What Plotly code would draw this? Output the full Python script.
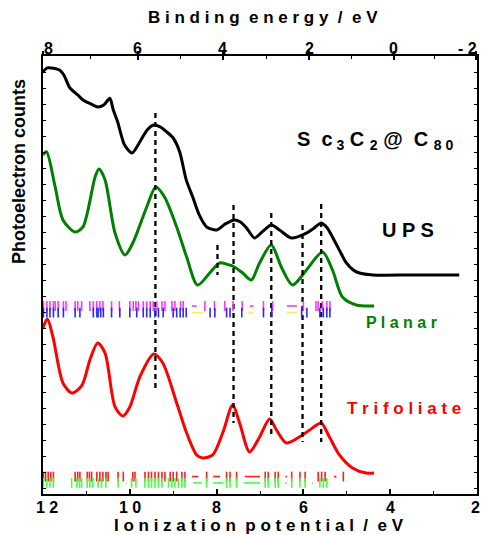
import plotly.graph_objects as go

# ---------------- data (ionization potential in eV, counts in arb. units) ----------------
ups_ip = [12.0, 11.9, 11.76, 11.62, 11.52, 11.38, 11.2, 11.08, 10.9, 10.74, 10.6, 10.46, 10.38, 10.28, 10.12,
          9.95, 9.77, 9.6, 9.45, 9.3, 9.15, 9.0, 8.85, 8.7, 8.55, 8.4, 8.23, 8.0, 7.8, 7.59, 7.45, 7.31, 7.13,
          6.95, 6.74, 6.55, 6.28, 5.93, 5.75, 5.59, 5.45, 5.33, 5.15, 5.01, 4.85, 4.71, 4.4, 3.5, 2.41]
ups_counts = [26.39, 26.63, 26.61, 26.5, 26.19, 25.38, 24.94, 24.63, 24.38, 24.19, 24.31, 24.73, 24.0, 23.25,
              21.81, 21.31, 22.0, 22.75, 23.06, 22.94, 22.63, 22.25, 21.38, 19.63, 18.56, 17.44, 16.69, 16.5,
              16.88, 17.13, 17.0, 16.63, 16.0, 16.38, 16.81, 16.5, 16.0, 16.31, 16.63, 16.94, 16.63, 16.06,
              15.13, 14.44, 14.0, 13.81, 13.69, 13.69, 13.69]

planar_ip = [12.0, 11.92, 11.72, 11.54, 11.26, 11.08, 10.8, 10.71, 10.57, 10.34, 10.11, 9.93, 9.61, 9.4, 9.2,
             8.92, 8.69, 8.44, 8.16, 7.93, 7.7, 7.59, 7.4, 7.2, 7.01, 6.74, 6.51, 6.25, 5.93, 5.56, 5.33, 5.1,
             4.78, 4.37]
planar_counts = [21.19, 21.39, 19.19, 17.13, 16.38, 16.69, 19.81, 20.31, 19.63, 16.31, 14.94, 15.69, 17.94,
                 19.19, 18.56, 16.69, 14.81, 13.06, 13.81, 14.44, 14.31, 14.19, 13.81, 13.38, 14.44, 15.56,
                 14.19, 13.06, 14.0, 15.13, 14.0, 12.31, 11.81, 11.75]

trifoliate_ip = [12.0, 11.9, 11.77, 11.54, 11.33, 11.1, 10.92, 10.74, 10.57, 10.34, 10.16, 10.0, 9.77, 9.45,
                 9.24, 8.92, 8.69, 8.46, 8.32, 8.09, 7.86, 7.63, 7.47, 7.24, 7.01, 6.78, 6.62, 6.39, 6.02,
                 5.79, 5.59, 5.4, 5.17, 4.87, 4.55, 4.37]
trifoliate_counts = [10.38, 10.94, 9.81, 6.94, 6.31, 6.81, 8.38, 9.44, 8.81, 5.44, 4.88, 5.44, 7.31, 8.75,
                     8.19, 5.69, 3.81, 2.44, 2.25, 2.44, 3.81, 5.56, 4.44, 2.63, 3.56, 4.69, 4.0, 3.19, 3.69,
                     4.13, 4.44, 3.56, 2.44, 1.63, 1.31, 1.31]

# peak-assignment guide lines
guide_ip = [9.41, 7.98, 7.61, 6.74, 6.02, 5.59]
guide_top = [23.81, 15.56, 18.06, 17.56, 16.81, 18.13]
guide_bottom = [6.56, 13.69, 4.44, 3.56, 3.25, 3.25]

# calculated orbital energies (stick spectra)
planar_a_ip = [11.99, 11.91, 11.84, 11.76, 11.72, 11.65, 11.53, 11.47, 11.26, 11.2, 11.11, 10.92, 10.84, 10.76,
               10.69, 10.62, 10.42, 10.24, 10.0, 9.92, 9.86, 9.8, 9.69, 9.61, 9.53, 9.46, 9.38, 9.26, 9.19,
               9.03, 8.96, 8.83, 8.77, 8.27, 8.05, 7.81, 7.62, 7.41, 6.92, 6.71, 6.0, 5.71, 5.66, 5.56, 5.46,
               5.39]
planar_a_bands = [(8.57, 8.46), (7.23, 7.15), (6.38, 6.15)]
planar_b_ip = [11.99, 11.91, 11.84, 11.76, 11.65, 11.53, 11.26, 11.15, 10.84, 10.76, 10.73, 10.67, 10.61,
               10.42, 10.23, 10.0, 9.84, 9.69, 9.61, 9.53, 9.42, 9.34, 9.23, 9.0, 8.92, 8.84, 8.77, 8.7, 8.15,
               8.04, 7.77, 7.69, 7.42, 6.92, 6.73, 6.04, 5.92, 5.62, 5.54, 5.46, 5.39]
planar_c_bands = [(8.57, 8.31), (7.27, 7.15), (6.38, 6.15), (5.78, 5.76)]

trif_a_ip = [11.99, 11.94, 11.88, 11.82, 11.76, 11.26, 11.2, 11.15, 10.98, 10.93, 10.88, 10.76, 10.69, 10.62,
             10.55, 10.5, 10.27, 10.15, 9.93, 9.88, 9.65, 9.57, 9.5, 9.42, 9.34, 9.26, 9.19, 9.07, 9.0, 8.92,
             8.8, 8.73, 8.23, 7.77, 7.69, 7.54, 6.88, 6.81, 6.65, 6.58, 6.27, 6.08, 5.96, 5.66, 5.58, 5.5,
             5.08]
trif_a_bands = [(8.57, 8.42), (8.08, 7.92), (7.35, 7.0), (6.42, 6.38), (5.3, 5.24)]
trif_b_ip = [11.99, 11.91, 11.84, 11.76, 11.34, 11.22, 11.16, 11.11, 10.98, 10.92, 10.85, 10.73, 10.65, 10.55,
             10.27, 9.96, 9.86, 9.65, 9.57, 9.5, 9.42, 9.34, 9.26, 9.11, 9.03, 8.96, 8.88, 8.8, 8.73, 8.23,
             7.77, 7.69, 7.54, 6.88, 6.81, 6.65, 6.58, 6.27, 6.08, 5.96, 5.62, 5.54, 5.46]
trif_b_bands = [(8.54, 8.34), (8.08, 7.85), (7.38, 7.0), (6.42, 6.38), (10.08, 10.06), (5.80, 5.78)]

stick_levels = {"planar_a": 11.75, "planar_b": 11.34, "trif_a": 1.09, "trif_b": 0.69}

bottom_ticks = [12, 10, 8, 6, 4, 2]
bottom_labels = ["1 2", "1 0", "8", "6", "4", "2"]
bottom_minor = [11, 9, 7, 5, 3]
top_tick_ip = [12.0, 9.82, 7.86, 5.86, 3.92, 2.03]
top_labels = ["8", "6", "4", "2", "0", "- 2"]
top_minor_ip = [10.91, 8.84, 6.86, 4.89, 2.98]

# ---------------- layout constants ----------------
W, H = 482, 535
ML, MR, MT, MB = 43, 5, 56, 41
PW, PH = W - ML - MR, H - MT - MB
FONT = "Liberation Sans, Arial, sans-serif"


def py(yp):
    return (H - MB - yp) / PH


def px(xp, yp):
    return (xp - ML) / PW, py(yp)


fig = go.Figure()

fig.add_trace(go.Scatter(x=ups_ip, y=ups_counts, mode="lines",
                         line=dict(color="black", width=3, shape="spline", smoothing=0.7)))
fig.add_trace(go.Scatter(x=planar_ip, y=planar_counts, mode="lines",
                         line=dict(color="#008000", width=3, shape="spline", smoothing=0.8)))
fig.add_trace(go.Scatter(x=trifoliate_ip, y=trifoliate_counts, mode="lines",
                         line=dict(color="#ff0000", width=3, shape="spline", smoothing=0.8)))

gx, gy = [], []
for xi, t, b in zip(guide_ip, guide_top, guide_bottom):
    gx += [xi, xi, None]
    gy += [t, b, None]
fig.add_trace(go.Scatter(x=gx, y=gy, mode="lines",
                         line=dict(color="black", width=2.3, dash="5px,4px")))


def sticks(xs, level, color):
    fig.add_trace(go.Scatter(x=xs, y=[level] * len(xs), mode="markers",
                             marker=dict(symbol="line-ns", size=7,
                                         line=dict(color=color, width=1.6))))


def bands(pairs, level, color):
    bx, by = [], []
    for a, b in pairs:
        bx += [a, b, None]
        by += [level, level, None]
    fig.add_trace(go.Scatter(x=bx, y=by, mode="lines", line=dict(color=color, width=1.6)))


sticks(planar_a_ip, stick_levels["planar_a"], "#ff33ff")
bands(planar_a_bands, stick_levels["planar_a"], "#ff33ff")
sticks(planar_b_ip, stick_levels["planar_b"], "#2a2aff")
bands(planar_c_bands, stick_levels["planar_b"], "#f4f05a")
sticks(trif_a_ip, stick_levels["trif_a"], "#ff2020")
bands(trif_a_bands, stick_levels["trif_a"], "#ff2020")
sticks(trif_b_ip, stick_levels["trif_b"], "#44ff44")
bands(trif_b_bands, stick_levels["trif_b"], "#44ff44")

fig.update_layout(
    width=W, height=H, showlegend=False,
    margin=dict(l=ML, r=MR, t=MT, b=MB, pad=0),
    paper_bgcolor="white", plot_bgcolor="white",
    xaxis=dict(range=[12, 2], showgrid=False, zeroline=False, showline=True, linecolor="black",
               linewidth=2, ticks="inside", ticklen=5, tickwidth=1.5, tickcolor="black",
               tickvals=bottom_ticks, showticklabels=False, automargin=False,
               minor=dict(tickvals=bottom_minor, ticks="inside", ticklen=3, tickwidth=1.2,
                          tickcolor="black")),
    xaxis2=dict(range=[12, 2], overlaying="x", side="top", showgrid=False, zeroline=False,
                showline=True, linecolor="black", linewidth=2, ticks="outside", ticklen=3,
                tickwidth=1.5, tickcolor="black", tickvals=top_tick_ip, showticklabels=False,
                automargin=False,
                minor=dict(tickvals=top_minor_ip, ticks="inside", ticklen=3, tickwidth=1.2,
                           tickcolor="black")),
    xaxis3=dict(range=[12, 2], overlaying="x", side="top", showgrid=False, zeroline=False,
                showline=False, ticks="inside", ticklen=4, tickwidth=1.5, tickcolor="black",
                tickvals=top_tick_ip, showticklabels=False, automargin=False),
    yaxis=dict(range=[0, PH / 16], showgrid=False, zeroline=False, showline=True, linecolor="black",
               linewidth=2, mirror="ticks", ticks="inside", ticklen=3, tickwidth=1.2,
               tickcolor="black", tick0=0.33, dtick=1, showticklabels=False, automargin=False),
)

# dummy traces to activate the top axes
fig.add_trace(go.Scatter(x=[None], y=[None], xaxis="x2", showlegend=False))
fig.add_trace(go.Scatter(x=[None], y=[None], xaxis="x3", showlegend=False))


def note(text, xp, yp, size, color="black", angle=0, xanchor="center"):
    x, y = px(xp, yp)
    fig.add_annotation(text=text, x=x, y=y, xref="paper", yref="paper", showarrow=False,
                       xanchor=xanchor, yanchor="middle", textangle=angle,
                       font=dict(family=FONT, size=size, color=color, weight="bold"))


def tick_label(text, xval, yp, xshift=0):
    fig.add_annotation(text=text, x=xval, y=py(yp), xref="x", yref="paper", showarrow=False,
                       xanchor="center", yanchor="middle", xshift=xshift,
                       font=dict(family=FONT, size=16, color="black", weight="bold"))


edge_shift_top = {0: 5, len(top_labels) - 1: -8}
for i, (t, v) in enumerate(zip(top_labels, top_tick_ip)):
    tick_label(t, v, 48, edge_shift_top.get(i, 0))

edge_shift_bottom = {0: 4, len(bottom_labels) - 1: -2}
for i, (t, v) in enumerate(zip(bottom_labels, bottom_ticks)):
    tick_label(t, v, 507, edge_shift_bottom.get(i, 0))

note("B i n d i n g  e n e r g y  /  e V", 263, 18, 17)
note("I o n i z a t i o n  p o t e n t i a l  /  e V", 259, 525, 17)
note("Photoelectron counts", 19, 172, 18, angle=-90)
note("S  c<sub> 3</sub> C <sub>2</sub> @  C <sub>8 0</sub>", 375, 140, 20)
note("U P S", 408, 230, 20)
note("P l a n a r", 401, 322, 16, color="#008000")
note("T r i f o l i a t e", 404, 408, 17, color="#ff0000")

fig.write_html("out.html", config={"displayModeBar": False},
               post_script="document.body.style.margin='0px';"
                           "document.body.style.overflow='hidden';")
